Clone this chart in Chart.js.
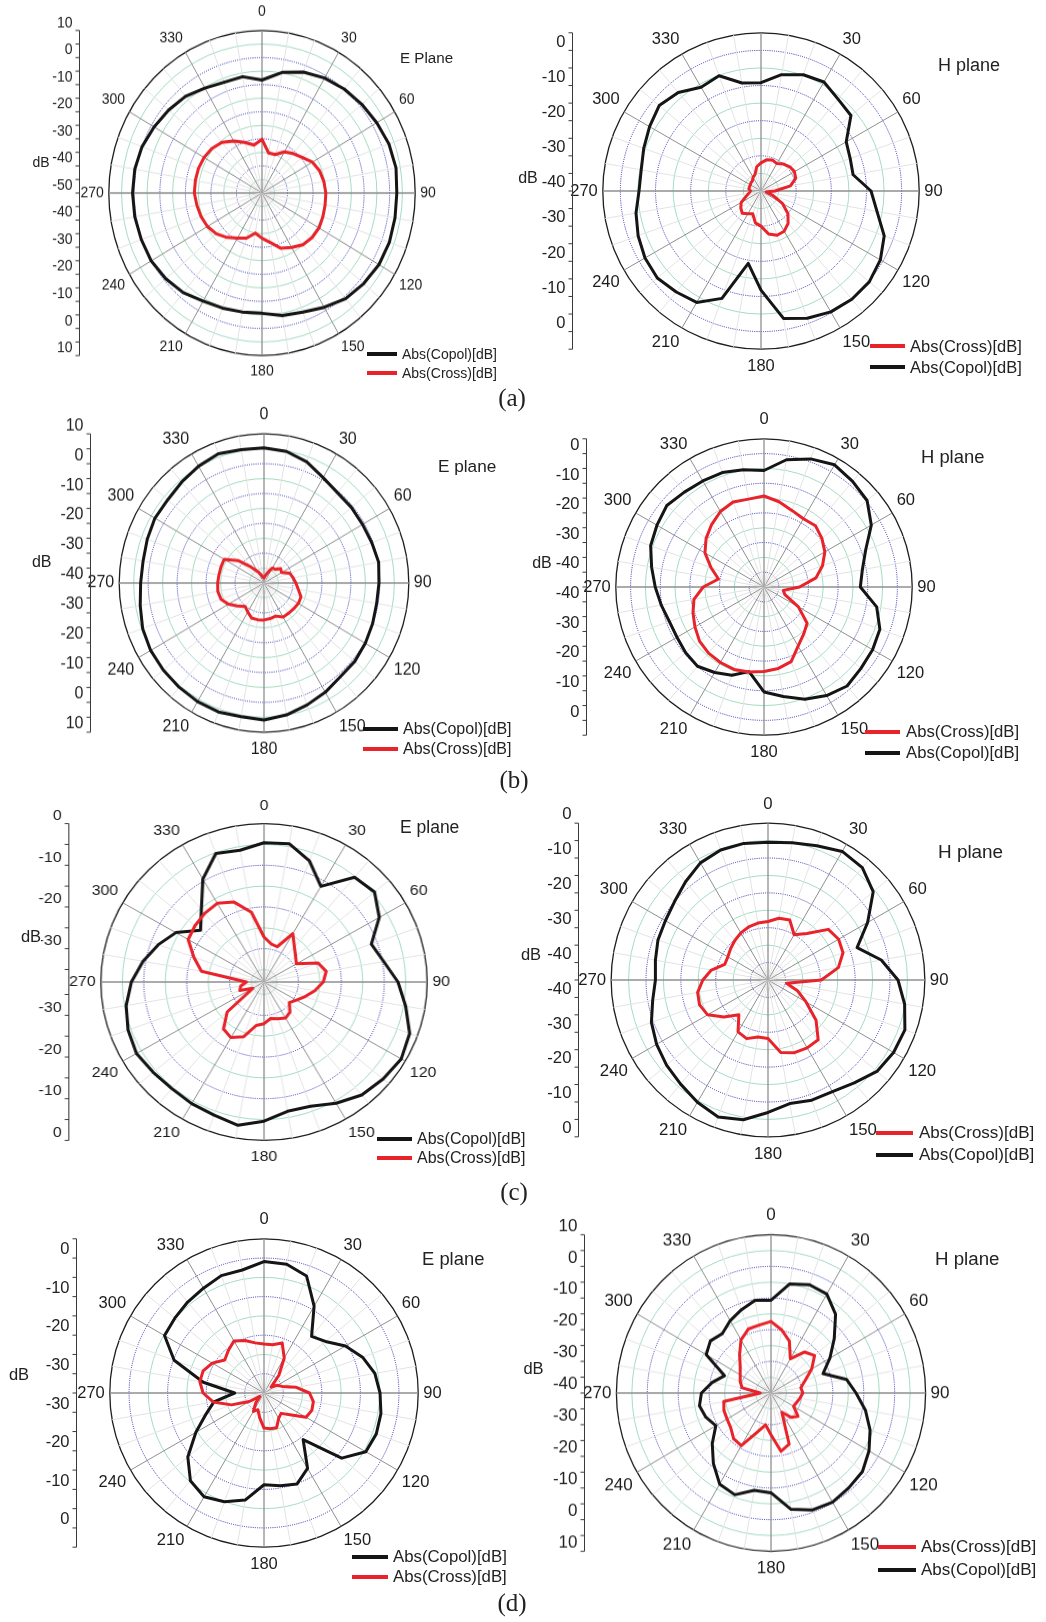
<!DOCTYPE html>
<html lang="en">
<head>
    <meta charset="UTF-8">
    <title>E and H plane radiation patterns</title>
    <script src="https://cdn.jsdelivr.net/npm/chart.js"></script>
    <style>
        body {
            margin: 0;
            background: #ffffff;
            font-family: 'Liberation Sans', Arial, sans-serif;
            color: #222;
        }

        #page {
            position: relative;
            width: 1046px;
            height: 1622px;
            overflow: hidden;
        }

        canvas {
            position: absolute;
        }

        .txt {
            position: absolute;
            white-space: nowrap;
            line-height: 1.15;
            transform: translateY(-50%);
        }

        .dbl {
            position: absolute;
            white-space: nowrap;
            line-height: 1.05;
            background: #ffffff;
            transform: translate(-50%, -50%);
        }

        .legline {
            position: absolute;
            height: 4px;
        }

        .caption {
            position: absolute;
            font-family: 'Liberation Serif', 'Times New Roman', serif;
            font-size: 25px;
            line-height: 1.15;
            transform: translate(-50%, -50%);
        }
    </style>
</head>

<body>
    <div id="page"></div>

    <script>
        // angle labels, clockwise from the top, every 10 degrees
        const angleLabels = ['0', '10', '20', '30', '40', '50', '60', '70', '80', '90', '100', '110',
            '120', '130', '140', '150', '160', '170', '180', '190', '200', '210', '220', '230',
            '240', '250', '260', '270', '280', '290', '300', '310', '320', '330', '340', '350'];

        // (a) E plane
        const copolAE = [-8.3, -4.8, -2.5, -1.0, 0.1, 1.0, 1.9, 2.9, 3.3, 2.8, 2.9, 3.1,
            2.9, 2.0, 0.9, -1.3, -3.2, -4.1, -5.6, -5.4, -4.8, -3.9, -2.0, -0.8,
            0.1, 0.3, 0.6, 0.7, 0.6, 0.0, -1.2, -2.3, -3.4, -5.3, -6.5, -6.4];
        const crossAE = [-30.2, -35.0, -34.9, -32.5, -31.0, -29.5, -27.2, -26.0, -25.4, -25.0, -24.9, -24.6,
            -24.2, -24.4, -25.1, -26.8, -28.3, -31.5, -33.3, -35.0, -32.3, -30.8, -28.6, -26.6,
            -25.3, -24.6, -24.1, -23.5, -23.5, -23.5, -23.8, -24.4, -25.6, -27.8, -30.1, -32.0];
        // (a) H plane
        const copolAH = [-9.2, -6.4, -4.8, -4.2, -5.9, -6.6, -12.0, -13.0, -13.4, -8.7, -6.5, -2.7,
            -0.8, 0.2, 0.2, -0.3, -1.5, -3.2, -11.8, -19.1, -7.5, -3.4, -2.5, -1.5,
            -1.9, -2.8, -3.9, -5.3, -5.4, -4.5, -3.4, -2.2, -3.4, -5.9, -5.1, -8.8];
        const crossAH = [-32.0, -31.0, -30.6, -31.0, -30.0, -29.3, -29.0, -29.5, -31.5, -36.0, -38.5, -36.5,
            -33.0, -30.0, -28.0, -26.8, -26.6, -27.6, -30.0, -30.8, -33.1, -32.5, -31.7, -32.5,
            -33.5, -35.5, -36.5, -37.0, -36.5, -36.5, -36.5, -36.3, -36.2, -35.5, -35.0, -33.0];
        // (b) E plane
        const copolBE = [5.3, 4.8, 3.2, 0.8, -0.5, -0.6, -0.7, -0.4, 0.2, -0.3, -0.5, -0.1,
            0.4, 0.9, 1.0, 2.3, 3.5, 4.9, 5.9, 5.5, 6.0, 5.9, 5.6, 5.4,
            5.2, 4.6, 3.4, 2.6, 2.4, 2.9, 3.5, 3.4, 4.2, 5.2, 6.1, 5.4];
        const crossBE = [-38.3, -37.5, -36.3, -34.2, -34.0, -32.5, -33.0, -30.5, -29.8, -29.0, -28.0, -26.4,
            -26.3, -26.6, -26.8, -26.8, -28.2, -27.9, -27.6, -27.5, -27.5, -28.8, -29.8, -28.0,
            -25.8, -24.2, -23.8, -24.0, -24.2, -24.2, -24.1, -28.3, -33.0, -35.5, -37.0, -38.0];
        // (b) H plane
        const copolBH = [-5.7, -1.4, 1.0, 2.6, 1.5, 0.4, -3.2, -8.5, -11.3, -12.5, -6.4, -3.4,
            -2.7, -2.3, -1.4, -2.7, -4.7, -7.5, -9.6, -16.0, -13.3, -11.7, -10.1, -10.5,
            -11.1, -11.0, -9.8, -8.3, -6.5, -4.3, -3.3, -2.2, -3.2, -3.7, -3.9, -4.8];
        const crossBH = [-14.3, -15.8, -17.5, -18.4, -18.0, -19.5, -21.3, -24.0, -27.2, -33.0, -38.4, -37.5,
            -31.6, -26.0, -24.2, -22.0, -18.2, -17.1, -16.5, -15.9, -15.4, -15.6, -15.9, -16.6,
            -18.1, -19.5, -21.0, -24.5, -29.4, -26.0, -22.0, -19.5, -17.5, -15.6, -14.5, -14.9];
        // (c) E plane
        const copolCE = [-4.6, -4.3, -7.1, -11.5, -5.2, -4.4, -7.0, -11.4, -9.7, -6.8, -4.5, -1.9,
            -1.1, -1.8, -2.6, -4.4, -6.3, -6.5, -4.6, -3.1, -4.0, -4.3, -4.6, -4.3,
            -3.7, -4.3, -5.4, -7.1, -9.4, -11.8, -14.3, -18.7, -15.3, -9.5, -5.2, -5.9];
        const crossCE = [-27.2, -28.7, -29.0, -24.6, -27.0, -28.4, -29.3, -24.6, -23.3, -24.2, -26.0, -27.8,
            -29.3, -30.3, -28.6, -28.0, -28.6, -29.1, -28.0, -27.4, -24.0, -22.6, -23.3, -26.8,
            -35.0, -32.0, -32.5, -33.9, -23.2, -20.6, -17.6, -17.0, -16.5, -16.2, -17.6, -21.0];
        // (c) H plane
        const copolCH = [-5.5, -5.0, -4.0, -2.4, -2.9, -5.6, -12.0, -17.8, -12.0, -7.7, -5.2, -3.2,
            -3.4, -4.2, -6.5, -8.0, -8.3, -9.0, -7.0, -4.3, -3.2, -4.5, -6.0, -7.0,
            -8.1, -9.4, -11.4, -12.7, -12.2, -11.4, -11.0, -10.0, -8.2, -6.2, -5.3, -5.2];
        const crossCH = [-28.2, -27.0, -26.7, -30.0, -27.6, -22.4, -21.6, -22.1, -24.5, -29.7, -39.6, -36.0,
            -32.4, -27.0, -22.6, -22.5, -22.8, -23.9, -28.2, -28.4, -27.1, -27.8, -32.0, -28.5,
            -25.0, -24.1, -24.5, -26.3, -28.5, -31.8, -31.7, -31.0, -30.2, -29.4, -28.8, -28.4];
        // (d) E plane
        const copolDE = [-0.9, -1.1, -2.7, -9.0, -15.8, -14.2, -10.6, -7.8, -5.8, -4.9, -4.2, -4.0,
            -4.5, -8.7, -19.2, -12.4, -9.9, -10.6, -11.2, -6.8, -5.0, -3.9, -5.3, -9.2,
            -14.6, -19.0, -21.8, -27.4, -19.0, -10.2, -5.2, -4.8, -4.2, -3.6, -2.6, -2.6];
        const crossDE = [-22.3, -22.3, -21.2, -24.5, -29.0, -32.6, -31.0, -30.0, -26.5, -23.2, -22.0, -21.8,
            -22.4, -26.2, -28.1, -27.4, -25.4, -25.6, -25.9, -28.5, -30.4, -29.5, -31.7, -33.6,
            -30.6, -26.0, -21.6, -19.2, -18.1, -18.2, -19.5, -21.7, -20.6, -19.4, -20.5, -21.8];
        // (d) H plane
        const copolDH = [-10.7, -5.0, -3.6, -3.9, -7.5, -13.3, -18.0, -22.1, -15.2, -12.5, -9.0, -5.9,
            -3.4, -1.4, -0.9, -0.2, -0.7, -2.7, -8.5, -8.8, -5.8, -6.8, -11.0, -15.2,
            -19.4, -17.6, -16.5, -17.5, -20.7, -24.0, -15.8, -14.4, -15.5, -13.6, -12.0, -10.3];
        const crossDH = [-17.4, -19.8, -22.6, -27.5, -23.1, -21.6, -24.8, -28.2, -30.2, -29.7, -30.5, -31.2,
            -31.6, -28.6, -30.0, -33.0, -22.8, -21.3, -26.8, -29.8, -26.8, -20.8, -21.2, -23.0,
            -23.6, -23.8, -24.5, -36.5, -30.5, -29.4, -28.5, -27.0, -24.2, -20.6, -18.5, -18.2];

        const BLACK = '#151515';
        const RED = '#e8232a';
        const FONT = "'Liberation Sans', Arial, sans-serif";

        // layout of the eight panels (page pixels)
        const panels = [
            { copol: copolAE, cross: crossAE, minDb: -50, maxDb: 10, cx: 262.3, cy: 193.3, r: 152.7, sy: 1.061, font: 14, axisOff: 183,
              title: 'E Plane', titleX: 400, titleY: 58, titleSize: 15.2, dbX: 41, dbY: 162, dbSize: 14,
              order: ['copol', 'cross'], legX1: 367, legX2: 397, legTx: 402, legY: [354, 373], legFont: 14 },
            { copol: copolAH, cross: crossAH, minDb: -40, maxDb: 5, cx: 761.3, cy: 190.7, r: 158, font: 16.5, axisOff: 189.3, hideZero: true,
              title: 'H plane', titleX: 938, titleY: 65, titleSize: 18, dbX: 528, dbY: 178, dbSize: 16,
              order: ['cross', 'copol'], legX1: 870, legX2: 905, legTx: 910, legY: [346, 367], legFont: 16.5 },
            { copol: copolBE, cross: crossBE, minDb: -40, maxDb: 10, cx: 263.5, cy: 583.3, r: 144.7, sy: 1.03, font: 16, axisOff: 174,
              title: 'E plane', titleX: 438, titleY: 467, titleSize: 17.2, dbX: 41.7, dbY: 562, dbSize: 16,
              order: ['copol', 'cross'], legX1: 363, legX2: 398, legTx: 403, legY: [729, 749], legFont: 16 },
            { copol: copolBH, cross: crossBH, minDb: -45, maxDb: 5, cx: 763.7, cy: 586.7, r: 148, font: 16.5, axisOff: 178,
              title: 'H plane', titleX: 921, titleY: 457, titleSize: 18.4, dbX: 542, dbY: 563, dbSize: 16,
              order: ['cross', 'copol'], legX1: 865, legX2: 900, legTx: 906, legY: [732, 753], legFont: 16.7 },
            { copol: copolCE, cross: crossCE, minDb: -38, maxDb: 0, cx: 264.3, cy: 981.7, r: 158.3, sx: 1.03, font: 15.5, axisOff: 190.3,
              title: 'E plane', titleX: 400, titleY: 827, titleSize: 17.5, dbX: 31, dbY: 937, dbSize: 16.5,
              order: ['copol', 'cross'], legX1: 377, legX2: 412, legTx: 417, legY: [1139, 1158], legFont: 16 },
            { copol: copolCH, cross: crossCH, minDb: -45, maxDb: 0, cx: 768, cy: 980, r: 157.3, font: 16.8, axisOff: 190,
              title: 'H plane', titleX: 938, titleY: 852, titleSize: 18.9, dbX: 531, dbY: 955, dbSize: 16.5,
              order: ['cross', 'copol'], legX1: 876, legX2: 913, legTx: 919, legY: [1133, 1155], legFont: 17 },
            { copol: copolDE, cross: crossDE, minDb: -35, maxDb: 5, cx: 264.3, cy: 1393.3, r: 154.5, font: 16.5, axisOff: 187.6,
              title: 'E plane', titleX: 422, titleY: 1259, titleSize: 18.4, dbX: 19, dbY: 1375, dbSize: 16.5,
              order: ['copol', 'cross'], legX1: 352, legX2: 388, legTx: 393, legY: [1557, 1577], legFont: 16.8 },
            { copol: copolDH, cross: crossDH, minDb: -40, maxDb: 10, cx: 771.3, cy: 1392.7, r: 155, sy: 1.024, font: 17, axisOff: 187.3,
              title: 'H plane', titleX: 935, titleY: 1259, titleSize: 18.7, dbX: 533.5, dbY: 1369, dbSize: 16.5,
              order: ['cross', 'copol'], legX1: 878, legX2: 916, legTx: 921, legY: [1547, 1570], legFont: 17 }
        ];

        const captions = [
            { text: '(a)', x: 512, y: 398 },
            { text: '(b)', x: 514, y: 780 },
            { text: '(c)', x: 514, y: 1192 },
            { text: '(d)', x: 512, y: 1603 }
        ];

        const page = document.getElementById('page');

        // mirrored dB axis on the left of each polar plot, placed with the radial scale
        const sideAxis = {
            id: 'sideAxis',
            afterDraw(chart, args, opts) {
                const sc = chart.scales.r;
                const ctx = chart.ctx;
                const x = Math.round(sc.xCenter - opts.offset) + 0.5;
                const yc = sc.yCenter;
                const R = sc.drawingArea;
                ctx.save();
                ctx.strokeStyle = '#3a3a3a';
                ctx.lineWidth = 1;
                ctx.beginPath();
                ctx.moveTo(x, yc - R);
                ctx.lineTo(x, yc + R);
                ctx.stroke();
                ctx.font = opts.fontSize + 'px ' + FONT;
                ctx.fillStyle = '#222';
                ctx.textAlign = 'right';
                ctx.textBaseline = 'middle';
                const first = Math.ceil(sc.min / 5) * 5;
                for (let v = first; v <= sc.max; v += 5) {
                    const d = sc.getDistanceFromCenterForValue(v);
                    const ys = d < 0.5 ? [yc] : [yc - d, yc + d];
                    ys.forEach(y => {
                        ctx.beginPath();
                        ctx.moveTo(x - 4, y);
                        ctx.lineTo(x, y);
                        ctx.stroke();
                        if (v % 10 === 0) {
                            ctx.fillText(String(v), x - 7, y - opts.fontSize * 0.5);
                        }
                    });
                }
                ctx.restore();
            }
        };

        function gridColor(v, p) {
            if (v === p.maxDb) return '#1e1e1e';
            if (v === p.minDb) return 'rgba(0,0,0,0)';
            if (v % 10 === 0) return '#2e2eb2';
            return '#a4dcc2';
        }

        function addText(cls, text, x, y, size) {
            const d = document.createElement('div');
            d.className = cls;
            d.textContent = text;
            d.style.left = x + 'px';
            d.style.top = y + 'px';
            if (size) d.style.fontSize = size + 'px';
            page.appendChild(d);
            return d;
        }

        function addLegend(p) {
            p.order.forEach((key, i) => {
                const y = p.legY[i];
                const line = document.createElement('div');
                line.className = 'legline';
                line.style.left = p.legX1 + 'px';
                line.style.width = (p.legX2 - p.legX1) + 'px';
                line.style.top = (y - 2) + 'px';
                line.style.background = key === 'copol' ? BLACK : RED;
                page.appendChild(line);
                addText('txt', key === 'copol' ? 'Abs(Copol)[dB]' : 'Abs(Cross)[dB]', p.legTx, y, p.legFont);
            });
        }

        function makePanel(p) {
            const padTop = 9, padBottom = 7, padSide = 5;
            const lh = p.font * 1.2;
            const half = Math.round(p.r + padTop + lh);
            const canvas = document.createElement('canvas');
            canvas.width = 490;
            canvas.height = 2 * half;
            page.appendChild(canvas);

            const chart = new Chart(canvas, {
                type: 'radar',
                data: {
                    labels: angleLabels,
                    datasets: [
                        { label: 'Abs(Cross)[dB]', data: p.cross, borderColor: RED, borderWidth: 3, fill: false },
                        { label: 'Abs(Copol)[dB]', data: p.copol, borderColor: BLACK, borderWidth: 3, fill: false }
                    ]
                },
                options: {
                    responsive: false,
                    maintainAspectRatio: false,
                    animation: false,
                    events: [],
                    layout: { padding: 0 },
                    elements: {
                        point: { radius: 0 },
                        line: { tension: 0, borderJoinStyle: 'round' }
                    },
                    plugins: {
                        legend: { display: false },
                        tooltip: { enabled: false },
                        sideAxis: { offset: p.axisOff, fontSize: p.font }
                    },
                    scales: {
                        r: {
                            min: p.minDb,
                            max: p.maxDb,
                            ticks: { display: false, stepSize: 5 },
                            grid: {
                                circular: true,
                                color: c => gridColor(c.tick.value, p),
                                lineWidth: c => c.tick.value === p.maxDb ? 1.3 : 1
                            },
                            border: {
                                dash: c => (c.tick && c.tick.value % 10 === 0 && c.tick.value !== p.maxDb) ? [1, 1.2] : []
                            },
                            angleLines: {
                                color: c => c.index % 3 === 0 ? '#8f8f8f' : '#e3e3e3',
                                lineWidth: c => c.index % 9 === 0 ? 1.3 : 1
                            },
                            pointLabels: {
                                display: true,
                                callback: (label, i) => (i % 3 === 0 && !(p.hideZero && i === 0)) ? label : '',
                                font: { size: p.font, family: FONT },
                                color: '#1c1c1c',
                                padding: c => c.index === 0 ? padTop : (c.index === 18 ? padBottom : padSide)
                            }
                        }
                    }
                },
                plugins: [sideAxis]
            });

            // put the polar centre where it is in the figure
            const sc = chart.scales.r;
            canvas.style.left = (p.cx - sc.xCenter) + 'px';
            canvas.style.top = (p.cy - sc.yCenter) + 'px';
            canvas.style.transformOrigin = sc.xCenter + 'px ' + sc.yCenter + 'px';
            canvas.style.transform = 'scale(' + (p.sx || 1) + ',' + (p.sy || 1) + ')';

            addText('txt', p.title, p.titleX, p.titleY, p.titleSize);
            addText('dbl', 'dB', p.dbX, p.dbY, p.dbSize);
            addLegend(p);
        }

        panels.forEach(makePanel);
        captions.forEach(c => addText('caption', c.text, c.x, c.y));
    </script>
</body>
</html>
